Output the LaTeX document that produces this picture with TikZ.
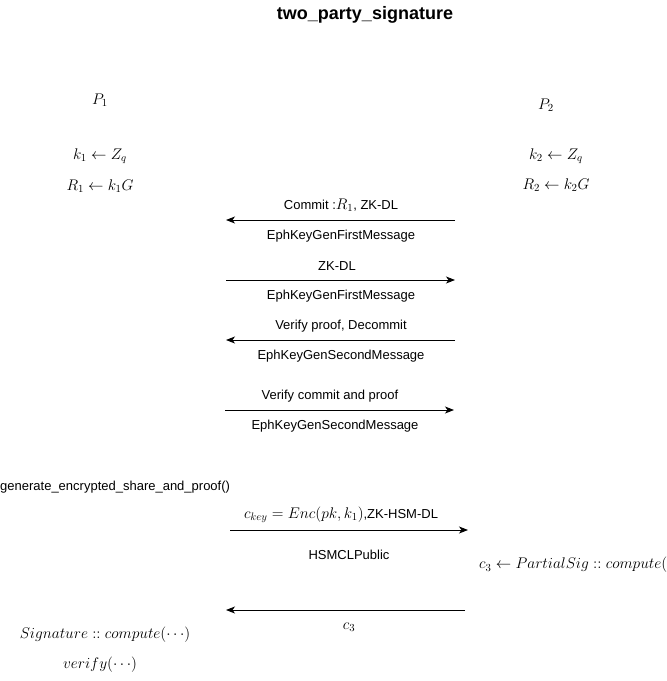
\documentclass[tikz,border=0pt]{standalone}
\usepackage{fix-cm}
\usepackage{fontspec}
\setmainfont{Liberation Sans}
\usetikzlibrary{arrows.meta}
\tikzset{
  lbl/.style={inner sep=0pt, font=\fontsize{13}{15}\selectfont},
  mth/.style={inner sep=0pt, font=\fontsize{15.4}{17}\selectfont},
  msg/.style={draw=black, line width=0.9pt, -{Stealth[length=9pt,width=7pt,inset=2.5pt]}},
}
\begin{document}
\begin{tikzpicture}[x=1pt,y=-1pt]
\useasboundingbox (0,0) rectangle (667,681);
\node[inner sep=0pt, font=\fontsize{18}{20}\selectfont\bfseries] (title) at (365,15) {two\_party\_signature};
% parties
\node[mth] (p1) at (100,100) {$P_1$};
\node[mth] (p2) at (546,105) {$P_2$};
\node[mth] (k1) at (100,156) {$k_1 \leftarrow Z_q$};
\node[mth] (r1) at (100,186) {$R_1 \leftarrow k_1G$};
\node[mth] (k2) at (556,156) {$k_2 \leftarrow Z_q$};
\node[mth] (r2) at (556,185) {$R_2 \leftarrow k_2G$};
% message endpoints
\coordinate (a1r) at (455,220); \coordinate (a1l) at (226,220);
\coordinate (a2l) at (226,280); \coordinate (a2r) at (455,280);
\coordinate (a3r) at (455,340); \coordinate (a3l) at (226,340);
\coordinate (a4l) at (225,410); \coordinate (a4r) at (454,410);
\coordinate (a5l) at (230,530); \coordinate (a5r) at (468,530);
\coordinate (a6r) at (465,610); \coordinate (a6l) at (226,610);
\draw[msg] (a1r) -- (a1l);
\draw[msg] (a2l) -- (a2r);
\draw[msg] (a3r) -- (a3l);
\draw[msg] (a4l) -- (a4r);
\draw[msg] (a5l) -- (a5r);
\draw[msg] (a6r) -- (a6l);
% labels
\node[lbl] (m1a) at (341,205) {Commit :{\fontsize{15.4}{17}\selectfont$R_1$}, ZK-DL};
\node[lbl] (m1b) at (341,236) {EphKeyGenFirstMessage};
\node[lbl] (m2a) at (337,266) {ZK-DL};
\node[lbl] (m2b) at (341,296) {EphKeyGenFirstMessage};
\node[lbl] (m3a) at (341,326) {Verify proof, Decommit};
\node[lbl] (m3b) at (341,356) {EphKeyGenSecondMessage};
\node[lbl] (m4a) at (330,396) {Verify commit and proof};
\node[lbl] (m4b) at (335,426) {EphKeyGenSecondMessage};
\node[lbl, anchor=west] (gen) at (0,487) {generate\_encrypted\_share\_and\_proof()};
\node[lbl] (m5a) at (341,515) {{\fontsize{15.4}{17}\selectfont$c_{key} = Enc(pk, k_1)$},ZK-HSM-DL};
\node[lbl] (m5b) at (349,555) {HSMCLPublic};
\node[mth, anchor=west] (c3p) at (479,565) {$c_3 \leftarrow PartialSig :: compute($};
\node[mth] (m6) at (349,627) {$c_3$};
\node[mth] (sig) at (105,635) {$Signature :: compute(\cdots)$};
\node[mth] (ver) at (100,665) {$verify(\cdots)$};
\end{tikzpicture}
\end{document}
